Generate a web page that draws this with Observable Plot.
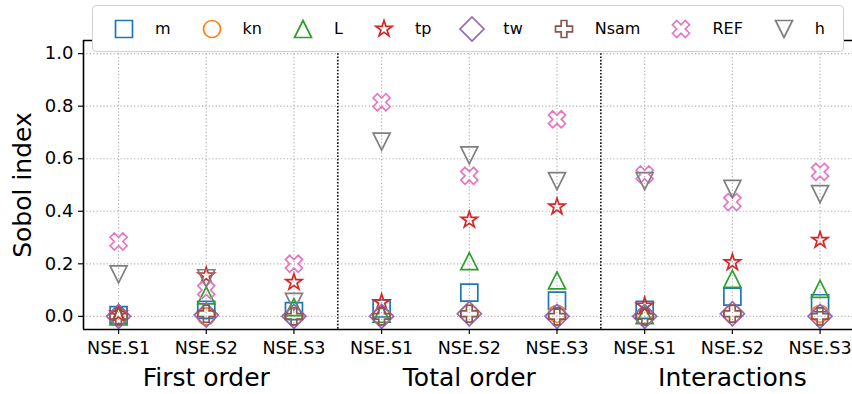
<!DOCTYPE html>
<html>
<head>
<meta charset="utf-8">
<script src="https://cdn.jsdelivr.net/npm/d3@7"></script>
<script src="https://cdn.jsdelivr.net/npm/@observablehq/plot@0.6"></script>
<style>
  html, body { margin: 0; padding: 0; background: white; }
  #wrap { position: relative; width: 852px; height: 394px; font-family: "DejaVu Sans", sans-serif; }
  #legend { position: absolute; left: 92px; top: 5px; width: 752px; height: 47px; box-sizing: border-box;
    border: 1px solid #d0d0d0; border-radius: 4px; background: white; display: flex; align-items: center;
    padding-left: 16px; font-size: 16px; color: #000; }
  .item { display: flex; align-items: center; margin-right: 26px; }
  .item span { margin-left: 16px; }
  .item svg { overflow: visible; }
</style>
</head>
<body>
<div id="wrap"><div id="chart"></div><div id="legend"></div></div>
<script>
// ---- data ----
const groups = ["First order", "Total order", "Interactions"];
const metrics = ["NSE.S1", "NSE.S2", "NSE.S3"];
const params = ["m", "kn", "L", "tp", "tw", "Nsam", "REF", "h"];
// values in order: First(S1,S2,S3), Total(S1,S2,S3), Interactions(S1,S2,S3)
const m_vals    = [0.005, 0.025, 0.02, 0.03, 0.09, 0.06, 0.025, 0.075, 0.05];
const kn_vals   = [0.0, 0.0, 0.0, 0.0, 0.01, 0.01, 0.0, 0.01, 0.01];
const L_vals    = [0.0, 0.08, 0.035, 0.01, 0.21, 0.137, 0.005, 0.143, 0.105];
const tp_vals   = [0.01, 0.155, 0.13, 0.053, 0.367, 0.417, 0.04, 0.205, 0.29];
const tw_vals   = [0.0, 0.005, 0.0, 0.0, 0.01, 0.0, 0.0, 0.01, 0.0];
const Nsam_vals = [0.0, 0.01, 0.0, 0.0, 0.01, 0.0, 0.0, 0.01, 0.0];
const REF_vals  = [0.285, 0.10, 0.20, 0.815, 0.535, 0.75, 0.54, 0.435, 0.55];
const h_vals    = [0.16, 0.145, 0.055, 0.665, 0.613, 0.515, 0.515, 0.485, 0.465];
const yTicks = [0.0, 0.2, 0.4, 0.6, 0.8, 1.0];

const seriesValues = [m_vals, kn_vals, L_vals, tp_vals, tw_vals, Nsam_vals, REF_vals, h_vals];
const colors = ["#1f77b4", "#ff7f0e", "#2ca02c", "#d62728", "#9467bd", "#8c564b", "#e377c2", "#7f7f7f"];

// ---- symbols (matplotlib-like) ----
function poly(c, pts) { c.moveTo(pts[0][0], pts[0][1]); for (let k = 1; k < pts.length; k++) c.lineTo(pts[k][0], pts[k][1]); c.closePath(); }
function sym(fn) { return { draw(c, size) { fn(c, Math.sqrt(size / Math.PI)); } }; }
const unitPoly = (pts) => sym((c, h) => poly(c, pts.map(([a, b]) => [(a - 0.5) * 2 * h, (b - 0.5) * 2 * h])));
const square = sym((c, h) => c.rect(-h, -h, 2 * h, 2 * h));
const circle = sym((c, h) => { c.moveTo(h, 0); c.arc(0, 0, h, 0, 2 * Math.PI); c.closePath(); });
const triUp = sym((c, h) => poly(c, [[0, -h], [-h, h], [h, h]]));
const triDown = sym((c, h) => poly(c, [[0, h], [-h, -h], [h, -h]]));
const star = sym((c, h) => {
  const pts = [];
  for (let k = 0; k < 10; k++) {
    const rr = k % 2 === 0 ? h : h * 0.381966;
    const a = -Math.PI / 2 + k * Math.PI / 5;
    pts.push([rr * Math.cos(a), rr * Math.sin(a)]);
  }
  poly(c, pts);
});
const diamond = sym((c, h) => { const d = h * Math.SQRT2; poly(c, [[0, -d], [d, 0], [0, d], [-d, 0]]); });
const plusFilled = unitPoly([[1/3,0],[2/3,0],[2/3,1/3],[1,1/3],[1,2/3],[2/3,2/3],[2/3,1],[1/3,1],[1/3,2/3],[0,2/3],[0,1/3],[1/3,1/3]]);
const xFilled = unitPoly([[0.25,0],[0.5,0.25],[0.75,0],[1,0.25],[0.75,0.5],[1,0.75],[0.75,1],[0.5,0.75],[0.25,1],[0,0.75],[0.25,0.5],[0,0.25]]);
const shapes = [square, circle, triUp, star, diamond, plusFilled, xFilled, triDown];

const R = 8.5, SW = 1.7;

// ---- derived ----
const nCols = groups.length * metrics.length;
const xTicks = d3.range(nCols);
const tickLabels = groups.flatMap(() => metrics);
const groupCenters = groups.map((g, gi) => gi * metrics.length + (metrics.length - 1) / 2);
const separators = groups.slice(1).map((g, gi) => (gi + 1) * metrics.length - 0.5);
const xDomain = [-0.4, nCols - 1 + 0.37];
const yDomain = [-0.05, 1.05];

const rows = params.map((p, pi) => seriesValues[pi].map((v, i) => ({ param: p, i, v })));

const chart = Plot.plot({
  width: 852, height: 394,
  marginLeft: 83, marginRight: 0, marginTop: 40, marginBottom: 65,
  style: { fontFamily: "DejaVu Sans, sans-serif", color: "#000", background: "white" },
  x: { type: "linear", domain: xDomain, axis: null },
  y: { domain: yDomain, axis: null },
  marks: [
    Plot.gridY(yTicks, { stroke: "#b0b0b0", strokeOpacity: 1, strokeWidth: 1.2, strokeDasharray: "1.2,2.2" }),
    Plot.gridX(xTicks, { stroke: "#b0b0b0", strokeOpacity: 1, strokeWidth: 1.2, strokeDasharray: "1.2,2.2" }),
    Plot.ruleX(separators, { stroke: "#111", strokeWidth: 1.6, strokeDasharray: "1.6,1.7" }),
    ...rows.map((data, pi) => Plot.dot(data, { x: "i", y: "v", symbol: shapes[pi], r: R, stroke: colors[pi], fill: "none", strokeWidth: SW })),
    Plot.ruleX([xDomain[0]], { stroke: "#000", strokeWidth: 1.6 }),
    Plot.ruleY([yDomain[0], yDomain[1]], { stroke: "#000", strokeWidth: 1.6 }),
    Plot.axisY({ ticks: yTicks, tickFormat: d3.format(".1f"), tickSize: 5, tickPadding: 5, fontSize: 18, label: null, stroke: "#000", strokeWidth: 1.2 }),
    Plot.axisX({ ticks: xTicks, tickFormat: (d) => tickLabels[d], tickSize: 5, tickPadding: 7, fontSize: 17.5, label: null, stroke: "#000", strokeWidth: 1.2 }),
    Plot.axisX({ ticks: groupCenters, tickFormat: (d) => groups[groupCenters.indexOf(d)], tickSize: 0, tickPadding: 39, fontSize: 25, label: null }),
    Plot.text(["Sobol index"], { frameAnchor: "left", textAnchor: "middle", rotate: -90, dx: -61, fontSize: 25, fill: "#000" })
  ]
});
document.getElementById("chart").appendChild(chart);

// ---- legend ----
const legend = d3.select("#legend");
params.forEach((p, pi) => {
  const item = legend.append("div").attr("class", "item");
  const svg = item.append("svg").attr("width", 30).attr("height", 30);
  const path = d3.path();
  shapes[pi].draw(path, R * R * Math.PI);
  svg.append("path").attr("transform", "translate(15,15)").attr("d", path.toString())
    .attr("fill", "none").attr("stroke", colors[pi]).attr("stroke-width", SW);
  item.append("span").text(p);
});
</script>
</body>
</html>
